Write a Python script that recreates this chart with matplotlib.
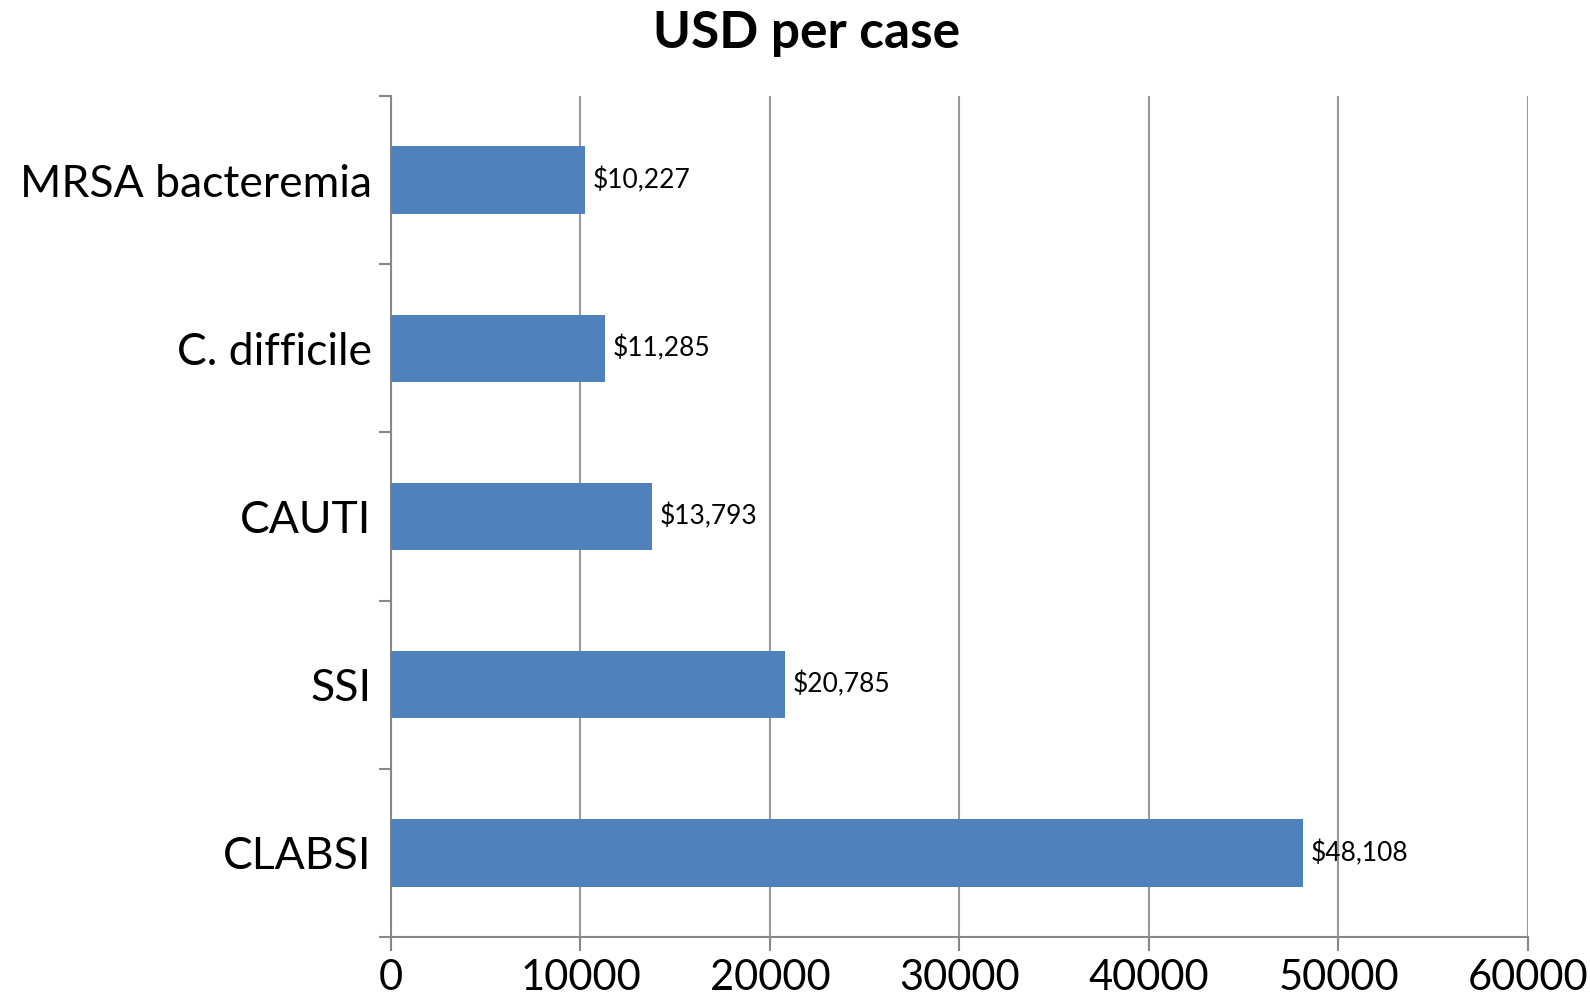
import matplotlib
matplotlib.use("Agg")
import matplotlib.pyplot as plt
import numpy as np

categories = ["CLABSI", "SSI", "CAUTI", "C. difficile", "MRSA bacteremia"]
costs = [48108, 20785, 13793, 11285, 10227]
xticks = [0, 10000, 20000, 30000, 40000, 50000, 60000]

plt.rcParams['font.family'] = ['Lato', 'DejaVu Sans']

fig = plt.figure(figsize=(15.9, 9.97), dpi=100)
ax = fig.add_axes([0.2459, 0.0602, 0.961 - 0.2459, 0.9037 - 0.0602])

y = np.arange(len(categories))
ax.barh(y, costs, height=0.4, color='#4F81BD', zorder=3)

for yi, v in zip(y, costs):
    ax.text(v + 400, yi, f"${v:,}", va='center', ha='left', fontsize=19, zorder=4)

ax.set_xlim(0, 60000)
ax.set_ylim(-0.5, len(categories) - 0.5)
ax.set_xticks(xticks)
ax.set_xticklabels([str(t) for t in xticks], fontsize=30)
ax.xaxis.grid(True, color='#999999', linewidth=1.5, zorder=0)

# category labels centred, ticks at the boundaries (Excel style)
ax.set_yticks(y)
ax.set_yticklabels(categories, fontsize=32)
ax.tick_params(axis='y', which='major', length=0, pad=14)
ax.set_yticks(np.arange(-0.5, len(categories)), minor=True)
ax.tick_params(axis='y', which='minor', length=9, width=1.5, color='#888888', direction='out')
ax.tick_params(axis='x', length=10, width=1.5, color='#888888', pad=6)

for s in ['top', 'right']:
    ax.spines[s].set_visible(False)
for s in ['left', 'bottom']:
    ax.spines[s].set_color('#888888')
    ax.spines[s].set_linewidth(1.5)

fig.text(0.507, 0.99, "USD per case", ha='center', va='top', fontsize=37, fontweight='bold')

fig.savefig("out.png", dpi=100)
